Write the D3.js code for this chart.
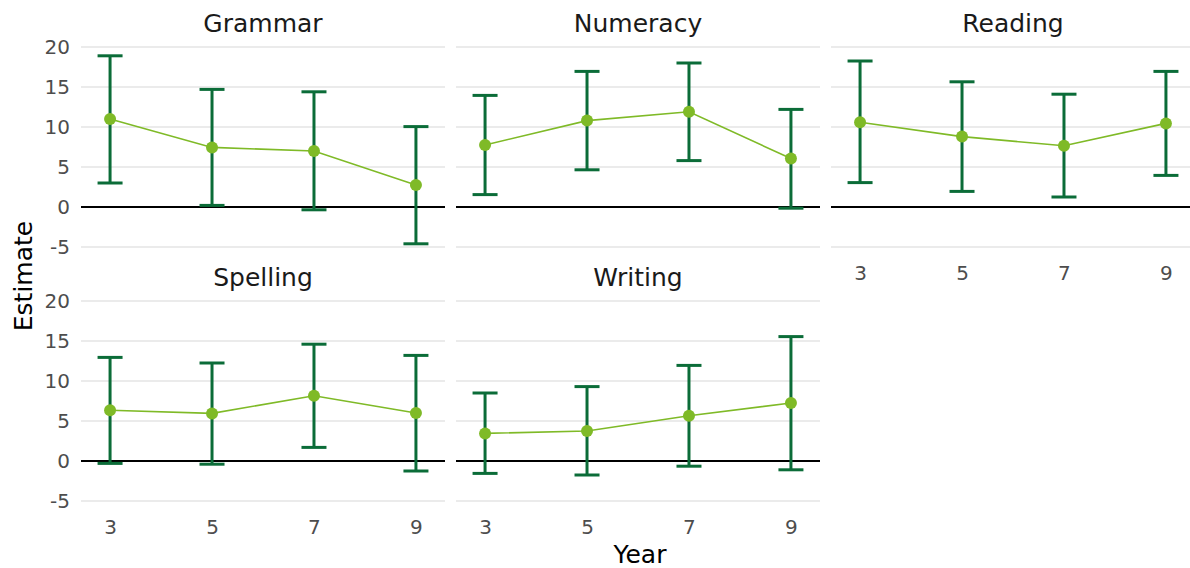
<!DOCTYPE html>
<html>
<head>
<meta charset="utf-8">
<script src="https://cdn.jsdelivr.net/npm/d3@7"></script>
<style>
  html, body { margin: 0; padding: 0; background: #ffffff; }
  svg { display: block; font-family: "DejaVu Sans", Verdana, sans-serif; }
</style>
</head>
<body>
<svg id="chart" width="1190" height="568"></svg>
<script>
// Estimated effect by school year, one facet per assessment domain
const subjects = ["Grammar", "Numeracy", "Reading", "Spelling", "Writing"];
const years = [3, 5, 7, 9];
const yTicks = [-5, 0, 5, 10, 15, 20];

const estimate = [
  [11.0, 7.45, 7.0, 2.75],   // Grammar
  [7.75, 10.8, 11.9, 6.05],  // Numeracy
  [10.6, 8.8, 7.65, 10.45],  // Reading
  [6.35, 5.95, 8.15, 6.0],   // Spelling
  [3.45, 3.75, 5.65, 7.25]   // Writing
];
const lower = [
  [3.0, 0.2, -0.35, -4.6],
  [1.55, 4.65, 5.8, -0.15],
  [3.05, 1.95, 1.25, 3.95],
  [-0.3, -0.4, 1.7, -1.25],
  [-1.55, -1.75, -0.65, -1.1]
];
const upper = [
  [18.9, 14.7, 14.4, 10.05],
  [13.95, 16.95, 18.0, 12.2],
  [18.25, 15.65, 14.1, 16.95],
  [12.95, 12.25, 14.6, 13.2],
  [8.5, 9.3, 11.95, 15.55]
];

const svg = d3.select("#chart");
const font = "'DejaVu Sans', Verdana, sans-serif";

const panelW = 364, panelH = 200;
const nCol = 3;
const colLeft = [81, 456, 831];
const rowTop = [47, 301];

const x = d3.scaleLinear().domain([2.43, 9.57]).range([0, panelW]);
const y = d3.scaleLinear().domain([-5, 20]).range([panelH, 0]);

const darkGreen = "#0b6c38";
const lightGreen = "#7fba27";

subjects.forEach((name, i) => {
  const row = Math.floor(i / nCol), col = i % nCol;
  const g = svg.append("g")
    .attr("transform", `translate(${colLeft[col]},${rowTop[row]})`);

  // horizontal grid lines
  g.selectAll("line.grid").data(yTicks.filter(t => t !== 0)).join("line")
    .attr("class", "grid")
    .attr("x1", 0).attr("x2", panelW)
    .attr("y1", d => y(d)).attr("y2", d => y(d))
    .attr("stroke", "#ebebeb").attr("stroke-width", 2);

  // reference line at zero
  g.append("line")
    .attr("x1", 0).attr("x2", panelW)
    .attr("y1", y(0)).attr("y2", y(0))
    .attr("stroke", "#000").attr("stroke-width", 2);

  // strip title
  g.append("text")
    .attr("x", panelW / 2).attr("y", -15)
    .attr("text-anchor", "middle")
    .attr("font-size", 25).attr("fill", "#1a1a1a")
    .text(name);

  const pts = years.map((yr, j) => ({
    yr, est: estimate[i][j], lo: lower[i][j], hi: upper[i][j]
  }));

  // error bars
  const eb = g.selectAll("g.eb").data(pts).join("g").attr("class", "eb");
  eb.append("line")
    .attr("x1", d => x(d.yr)).attr("x2", d => x(d.yr))
    .attr("y1", d => y(d.lo)).attr("y2", d => y(d.hi))
    .attr("stroke", darkGreen).attr("stroke-width", 3);
  [d => d.lo, d => d.hi].forEach(acc => {
    eb.append("line")
      .attr("x1", d => x(d.yr) - 12.5).attr("x2", d => x(d.yr) + 12.5)
      .attr("y1", d => y(acc(d))).attr("y2", d => y(acc(d)))
      .attr("stroke", darkGreen).attr("stroke-width", 3);
  });

  // connecting line
  g.append("path")
    .datum(pts)
    .attr("d", d3.line().x(d => x(d.yr)).y(d => y(d.est)))
    .attr("fill", "none").attr("stroke", lightGreen).attr("stroke-width", 1.6);

  // points
  g.selectAll("circle").data(pts).join("circle")
    .attr("cx", d => x(d.yr)).attr("cy", d => y(d.est))
    .attr("r", 6).attr("fill", lightGreen);

  // y axis labels on the first column
  if (col === 0) {
    const ya = g.append("g").call(
      d3.axisLeft(y).tickValues(yTicks).tickFormat(d => String(d)).tickSize(0).tickPadding(11));
    ya.select(".domain").remove();
    ya.selectAll("text").attr("font-size", 20).attr("fill", "#4d4d4d").attr("font-family", font);
  }

  // x axis labels on the bottom panel of each column
  const isBottom = row === 1 || (row === 0 && col === 2);
  if (isBottom) {
    const xa = g.append("g").attr("transform", `translate(0,${panelH})`)
      .call(d3.axisBottom(x).tickValues(years).tickSize(0).tickPadding(19));
    xa.select(".domain").remove();
    xa.selectAll("text").attr("font-size", 20).attr("fill", "#4d4d4d").attr("font-family", font);
  }
});

// axis titles
svg.append("text")
  .attr("x", 640).attr("y", 563)
  .attr("text-anchor", "middle")
  .attr("font-size", 25).attr("fill", "#000")
  .text("Year");

svg.append("text")
  .attr("transform", "translate(32,276) rotate(-90)")
  .attr("text-anchor", "middle")
  .attr("font-size", 25).attr("fill", "#000")
  .text("Estimate");
</script>
</body>
</html>
